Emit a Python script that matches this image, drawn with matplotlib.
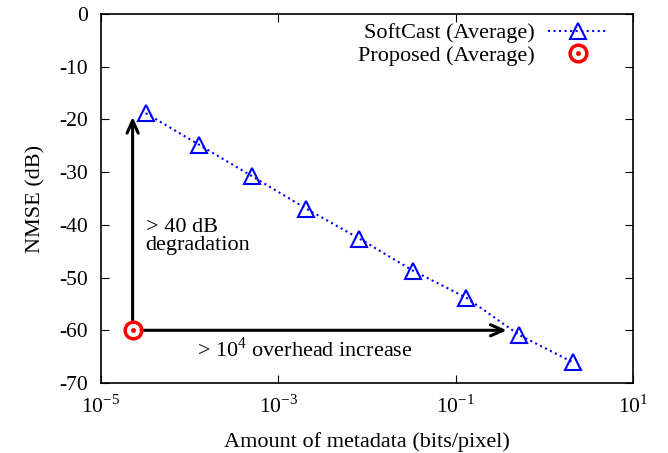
import numpy as np
import matplotlib.pyplot as plt
from matplotlib.legend_handler import HandlerTuple

# data
softcast_x = [3.2e-5, 1.28e-4, 5.1e-4, 2.05e-3, 8.2e-3, 3.3e-2, 0.131, 0.52, 2.1]
softcast_y = [-18.8, -24.8, -30.8, -36.9, -42.6, -48.7, -53.8, -60.9, -66.1]
proposed_x = [2.28e-5]
proposed_y = [-60.0]
arrow_up_to = -19.5
arrow_right_to = 0.375

plt.rcParams['font.family'] = ['Liberation Serif', 'DejaVu Serif']
plt.rcParams['mathtext.fontset'] = 'custom'
plt.rcParams['mathtext.rm'] = 'Liberation Serif'
plt.rcParams['axes.unicode_minus'] = False

fig = plt.figure(figsize=(6.68, 4.53), dpi=100)
ax = fig.add_axes([0.151, 0.1545, 0.797, 0.8145])

l1, = ax.plot(softcast_x, softcast_y, color='blue', linestyle=':', linewidth=1.5,
              marker='^', markersize=12, markerfacecolor='none',
              markeredgecolor='blue', markeredgewidth=1.5)
c1, = ax.plot(proposed_x, proposed_y, linestyle='none', marker='o', markersize=12,
              markerfacecolor='none', markeredgecolor='red', markeredgewidth=2.5, zorder=5)
c2, = ax.plot(proposed_x, proposed_y, linestyle='none', marker='o', markersize=2.5,
              color='red', zorder=5)

# arrows
ax.annotate('', xy=(proposed_x[0], arrow_up_to), xytext=(proposed_x[0], proposed_y[0]),
            arrowprops=dict(arrowstyle='->,head_length=0.9,head_width=0.4', lw=2.2, color='black',
                            shrinkA=6, shrinkB=0))
ax.annotate('', xy=(arrow_right_to, proposed_y[0]), xytext=(proposed_x[0], proposed_y[0]),
            arrowprops=dict(arrowstyle='->,head_length=0.9,head_width=0.4', lw=2.2, color='black',
                            shrinkA=6, shrinkB=0))
ax.text(3.2e-5, -38.6, '> 40 dB\ndegradation', fontsize=16, va='top', linespacing=0.95)
ax.text(1.2e-4, -61.3, r'> 10$^{4}$ overhead increase', fontsize=16, va='top')

ax.set_xscale('log')
ax.set_xlim(1e-5, 10)
ax.set_ylim(-70, 0)
ax.set_xticks([1e-5, 1e-3, 1e-1, 10])
ax.set_xticklabels([r'10$^{\mathrm{-5}}$', r'10$^{\mathrm{-3}}$', r'10$^{\mathrm{-1}}$', r'10$^{1}$'])
ax.xaxis.set_minor_locator(plt.NullLocator())
ax.set_yticks(np.arange(-70, 1, 10))
ax.tick_params(direction='in', top=True, right=True, labelsize=15.5, length=6, pad=9)
for s in ax.spines.values():
    s.set_linewidth(1.2)

ax.set_xlabel('Amount of metadata (bits/pixel)', fontsize=16, labelpad=10)
ax.set_ylabel('NMSE (dB)', fontsize=16, labelpad=10)

ax.legend([l1, (c1, c2)], ['SoftCast (Average)', 'Proposed (Average)'],
          handler_map={tuple: HandlerTuple(ndivide=1)},
          loc='upper right', frameon=False, markerfirst=False, fontsize=16,
          handlelength=2.7, handletextpad=0.6, borderaxespad=0.0, labelspacing=0.1,
          bbox_to_anchor=(0.97, 1.0))

fig.savefig('out.png', dpi=100)
